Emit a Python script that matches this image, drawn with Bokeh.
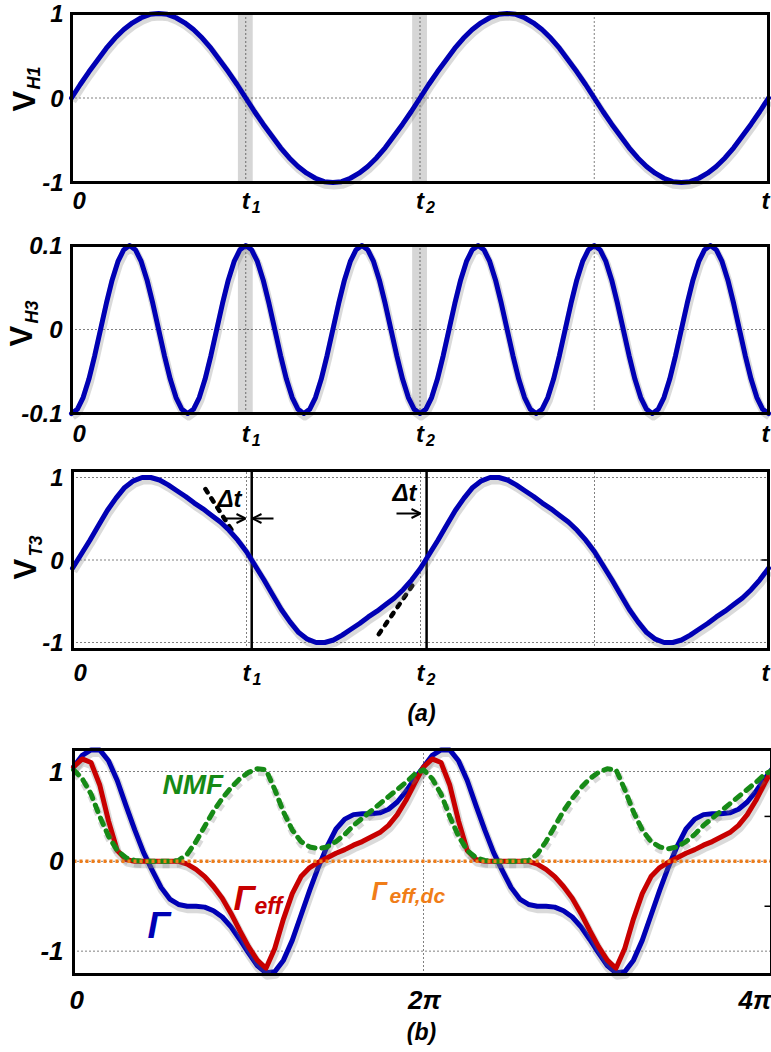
import numpy as np
from bokeh.plotting import figure
from bokeh.models import Range1d, Arrow, OpenHead, ColumnDataSource
from bokeh.core.properties import value
from bokeh.layouts import column
from bokeh.transform import dodge
from bokeh.embed import file_html
from bokeh.resources import INLINE

# ---------------- data ----------------
t_h1 = np.linspace(0, 4, 81)
v_h1 = [0.00, 0.16, 0.31, 0.45, 0.59, 0.71, 0.81, 0.89, 0.95, 0.99, 1.00, 0.99, 0.95, 0.89, 0.81, 0.71, 0.59, 0.45, 0.31, 0.16, 0.00,
        -0.16, -0.31, -0.45, -0.59, -0.71, -0.81, -0.89, -0.95, -0.99, -1.00, -0.99, -0.95, -0.89, -0.81, -0.71, -0.59, -0.45, -0.31, -0.16, 0.00,
        0.16, 0.31, 0.45, 0.59, 0.71, 0.81, 0.89, 0.95, 0.99, 1.00, 0.99, 0.95, 0.89, 0.81, 0.71, 0.59, 0.45, 0.31, 0.16, 0.00,
        -0.16, -0.31, -0.45, -0.59, -0.71, -0.81, -0.89, -0.95, -0.99, -1.00, -0.99, -0.95, -0.89, -0.81, -0.71, -0.59, -0.45, -0.31, -0.16, 0.00]

t_h3 = np.linspace(0, 4, 121)
v_h3 = [-0.100, -0.095, -0.081, -0.059, -0.031, 0.000, 0.031, 0.059, 0.081, 0.095, 0.100, 0.095, 0.081, 0.059, 0.031, 0.000, -0.031, -0.059, -0.081, -0.095,
        -0.100, -0.095, -0.081, -0.059, -0.031, 0.000, 0.031, 0.059, 0.081, 0.095, 0.100, 0.095, 0.081, 0.059, 0.031, 0.000, -0.031, -0.059, -0.081, -0.095,
        -0.100, -0.095, -0.081, -0.059, -0.031, 0.000, 0.031, 0.059, 0.081, 0.095, 0.100, 0.095, 0.081, 0.059, 0.031, 0.000, -0.031, -0.059, -0.081, -0.095,
        -0.100, -0.095, -0.081, -0.059, -0.031, 0.000, 0.031, 0.059, 0.081, 0.095, 0.100, 0.095, 0.081, 0.059, 0.031, 0.000, -0.031, -0.059, -0.081, -0.095,
        -0.100, -0.095, -0.081, -0.059, -0.031, 0.000, 0.031, 0.059, 0.081, 0.095, 0.100, 0.095, 0.081, 0.059, 0.031, 0.000, -0.031, -0.059, -0.081, -0.095,
        -0.100, -0.095, -0.081, -0.059, -0.031, 0.000, 0.031, 0.059, 0.081, 0.095, 0.100, 0.095, 0.081, 0.059, 0.031, 0.000, -0.031, -0.059, -0.081, -0.095,
        -0.100]

t_t3 = np.linspace(0, 4, 81)
v_t3 = [-0.10,
        0.07, 0.24, 0.42, 0.60, 0.75, 0.88, 0.96, 1.00, 1.00, 0.97, 0.91, 0.84, 0.77, 0.69, 0.62, 0.54, 0.46, 0.36, 0.24, 0.10,
        -0.07, -0.24, -0.42, -0.60, -0.75, -0.88, -0.96, -1.00, -1.00, -0.97, -0.91, -0.84, -0.77, -0.69, -0.62, -0.54, -0.46, -0.36, -0.24, -0.10,
        0.07, 0.24, 0.42, 0.60, 0.75, 0.88, 0.96, 1.00, 1.00, 0.97, 0.91, 0.84, 0.77, 0.69, 0.62, 0.54, 0.46, 0.36, 0.24, 0.10,
        -0.07, -0.24, -0.42, -0.60, -0.75, -0.88, -0.96, -1.00, -1.00, -0.97, -0.91, -0.84, -0.77, -0.69, -0.62, -0.54, -0.46, -0.36, -0.24, -0.10]

# gray bands around t1, t2 (x units)
band_left = [0.955, 1.955]
band_right = [1.040, 2.040]
# shifted zero crossings of V_T3
shifted_t = [1.03, 2.035]
# dashed tangent pieces on V_T3
tan_x0 = [0.764, 1.760]
tan_y0 = [0.86, -0.90]
tan_x1 = [0.925, 1.973]
tan_y1 = [0.33, -0.25]

theta = np.linspace(0, 4 * np.pi, 81)
gamma = [1.05, 1.18, 1.24, 1.24, 1.12, 0.90, 0.62, 0.35, 0.10, -0.10,
         -0.29, -0.42, -0.48, -0.50, -0.50, -0.51, -0.55, -0.62, -0.73, -0.87,
         -1.02, -1.16, -1.24, -1.23, -1.10, -0.88, -0.60, -0.32, -0.06, 0.17,
         0.36, 0.47, 0.52, 0.53, 0.53, 0.54, 0.58, 0.66, 0.78, 0.92,
         1.05, 1.18, 1.24, 1.24, 1.12, 0.90, 0.62, 0.35, 0.10, -0.10,
         -0.29, -0.42, -0.48, -0.50, -0.50, -0.51, -0.55, -0.62, -0.73, -0.87,
         -1.02, -1.16, -1.24, -1.23, -1.10, -0.88, -0.60, -0.32, -0.06, 0.17,
         0.36, 0.47, 0.52, 0.53, 0.53, 0.54, 0.58, 0.66, 0.78, 0.92, 1.05]
gamma_eff = [1.05, 1.14, 1.10, 0.85, 0.45, 0.12, 0.02, 0.00, 0.00, 0.00,
             0.00, 0.00, 0.00, -0.03, -0.09, -0.17, -0.28, -0.41, -0.58, -0.77,
             -0.95, -1.10, -1.19, -0.97, -0.64, -0.36, -0.17, -0.07, -0.01, 0.04,
             0.09, 0.13, 0.18, 0.22, 0.27, 0.32, 0.40, 0.52, 0.68, 0.87,
             1.05, 1.14, 1.10, 0.85, 0.45, 0.12, 0.02, 0.00, 0.00, 0.00,
             0.00, 0.00, 0.00, -0.03, -0.09, -0.17, -0.28, -0.41, -0.58, -0.77,
             -0.95, -1.10, -1.19, -0.97, -0.64, -0.36, -0.17, -0.07, -0.01, 0.04,
             0.09, 0.13, 0.18, 0.22, 0.27, 0.32, 0.40, 0.52, 0.68, 0.87, 1.05]
nmf = [1.02, 0.92, 0.75, 0.50, 0.28, 0.12, 0.04, 0.01, 0.00, 0.00,
       0.00, 0.00, 0.01, 0.08, 0.22, 0.39, 0.56, 0.70, 0.82, 0.92,
       0.99, 1.03, 1.02, 0.80, 0.55, 0.35, 0.22, 0.16, 0.14, 0.16,
       0.22, 0.30, 0.40, 0.48, 0.56, 0.64, 0.72, 0.80, 0.88, 0.97,
       1.02, 0.92, 0.75, 0.50, 0.28, 0.12, 0.04, 0.01, 0.00, 0.00,
       0.00, 0.00, 0.01, 0.08, 0.22, 0.39, 0.56, 0.70, 0.82, 0.92,
       0.99, 1.03, 1.02, 0.80, 0.55, 0.35, 0.22, 0.16, 0.14, 0.16,
       0.22, 0.30, 0.40, 0.48, 0.56, 0.64, 0.72, 0.80, 0.88, 0.97, 1.02]
gamma_eff_dc = 0.0

xt_pos = [0, 1, 2, 4]
xt_main = ["0", "t", "t", "t"]
xt_sub = ["", "1", "2", ""]
xt_grid = [1, 2, 3]
yt_a = [-1, 0, 1]
yt_a_lab = ["-1", "0", "1"]
yt_b = [-0.1, 0, 0.1]
yt_b_lab = ["-0.1", "0", "0.1"]
xt4_pos = [0, 2 * np.pi, 4 * np.pi]
xt4_lab = ["0", "2\u03c0", "4\u03c0"]
yt4_minor = [-0.5, 0.5]

# ---------------- styling / layout ----------------
W = 771
FONT = "Liberation Sans"
BLUE = "#0000b4"
RED = "#c80000"
GREEN = "#168a16"
ORANGE = "#f07d18"
SHADOW = "#7a7a7a"
TICK = 24      # tick-label font size (px)
SUB = 16       # subscript size
LW = 5         # curve width


class Panel:
    """A figure whose frame is the whole canvas; the axes box sits inside it."""

    def __init__(self, top, height, fl, ft, fr, fb, xr, yr):
        self.top, self.h = top, height
        self.fl, self.ft, self.fr, self.fb = fl, ft, fr, fb
        self.x0, self.x1 = xr
        self.y0, self.y1 = yr
        self.p = figure(width=W, height=height,
                        x_range=Range1d(self.X(0), self.X(W)),
                        y_range=Range1d(self.Y(top + height), self.Y(top)),
                        x_axis_location=None, y_axis_location=None, toolbar_location=None,
                        output_backend="svg", min_border_left=0, min_border_right=0,
                        min_border_top=0, min_border_bottom=0, outline_line_color=None,
                        background_fill_color="white", border_fill_color="white")
        self.p.grid.visible = False

    def sx(self):
        return (self.fr - self.fl) / (self.x1 - self.x0)

    def sy(self):
        return (self.fb - self.ft) / (self.y1 - self.y0)

    def X(self, px):
        return self.x0 + (px - self.fl) / self.sx()

    def Y(self, py):
        return self.y1 - (py - self.ft) / self.sy()

    def xpx(self, x):
        return self.fl + (x - self.x0) * self.sx()

    def ypx(self, y):
        return self.ft + (self.y1 - y) * self.sy()

    # text anchored at the vertical centre of its capitals ("middle")
    def text(self, px, py, s, size, color="black", align="left", angle=0.0,
             style="bold italic"):
        self.p.text(x=[self.X(px)], y=[self.Y(py)], text=[s], text_font=value(FONT),
                    text_font_size=value(f"{size}px"), text_font_style=style,
                    text_color=color, text_align=align, text_baseline="middle", angle=angle)

    def box(self):
        self.p.quad(left=[self.x0], right=[self.x1], bottom=[self.y0], top=[self.y1],
                    fill_color=None, line_color="black", line_width=3, line_join="miter")

    def bands(self):
        self.p.quad(left=band_left, right=band_right, bottom=[self.y0] * len(band_left),
                    top=[self.y1] * len(band_left), fill_color="#d6d6d6", line_color=None)

    def grid(self, xs, ys):
        xs, ys = list(xs), list(ys)
        self.p.segment(x0=xs, x1=xs, y0=[self.y0] * len(xs), y1=[self.y1] * len(xs),
                       line_color="black", line_dash="1 3", line_width=1)
        self.p.segment(x0=[self.x0] * len(ys), x1=[self.x1] * len(ys), y0=ys, y1=ys,
                       line_color="black", line_dash="1 3", line_width=1)

    def right_ticks(self, ys, length=7):
        ys = list(ys)
        self.p.segment(x0=[self.x1] * len(ys), x1=[self.X(self.fr - length)] * len(ys),
                       y0=ys, y1=ys, line_color="black", line_width=1.5)

    def curve(self, xs, ys, color, width=LW, dash="solid", shadow=True):
        src = ColumnDataSource(dict(x=list(xs), y=list(ys)))
        if shadow:
            self.p.line(x=dodge("x", 1.0 / self.sx()), y=dodge("y", -3.0 / self.sy()),
                        source=src, line_color=SHADOW, line_alpha=0.28, line_width=width + 3,
                        line_dash=dash, line_join="round")
        self.p.line(x="x", y="y", source=src, line_color=color, line_width=width,
                    line_dash=dash, line_join="round", line_cap="round")

    def yticks(self, vals, labs, right_px, size=TICK):
        for v, s in zip(vals, labs):
            self.text(right_px, self.ypx(v), s, size, align="right")

    def xticks_t(self, mid_py, size=TICK, subsize=SUB):
        for x, m, s in zip(xt_pos, xt_main, xt_sub):
            tp = self.xpx(x)
            if m == "0":
                self.text(self.fl + 1, mid_py, m, size)
            elif s == "":
                self.text(self.fr + 1, mid_py, m, size, align="right")
            else:
                self.text(tp - 4, mid_py, m, size)
                self.text(tp + 6, mid_py + 6, s, subsize)

    def ytitle(self, v_mid_x, v_start_y, sub, sub_mid_x, sub_start_y):
        self.text(v_mid_x, v_start_y, "V", 31, style="bold", angle=np.pi / 2)
        self.text(sub_mid_x, sub_start_y, sub, 18, angle=np.pi / 2)


# ---------- panel 1 : V_H1 ----------
P1 = Panel(0, 230, 71, 13, 768, 182, (0, 4), (-1, 1))
P1.bands()
P1.grid(xt_grid, [0])
P1.curve(t_h1, v_h1, BLUE)
P1.box()
P1.yticks(yt_a, yt_a_lab, 63)
P1.xticks_t(200)
P1.ytitle(24, 111, "H1", 33, 89)

# ---------- panel 2 : V_H3 ----------
P2 = Panel(230, 230, 71, 245, 768, 413, (0, 4), (-0.1, 0.1))
P2.bands()
P2.grid(xt_grid, [0])
P2.curve(t_h3, v_h3, BLUE)
P2.box()
P2.yticks(yt_b, yt_b_lab, 62)
P2.xticks_t(433)
P2.ytitle(21, 346, "H3", 31, 323)

# ---------- panel 3 : V_T3 ----------
P3 = Panel(460, 270, 72, 470, 768, 649, (0, 4), (-1.085, 1.085))
P3.grid(xt_grid, yt_a)
P3.p.segment(x0=shifted_t, x1=shifted_t, y0=[P3.y0] * 2, y1=[P3.y1] * 2,
             line_color="black", line_width=2.5)
P3.p.segment(x0=tan_x0, y0=tan_y0, x1=tan_x1, y1=tan_y1, line_color="black", line_width=4.5,
             line_dash="4 7", line_cap="round")
P3.curve(t_t3, v_t3, BLUE)
P3.right_ticks([0])
P3.box()
for xs, xe, py in [(222, 245, 518), (273, 252, 518), (396, 420, 513)]:
    P3.p.add_layout(Arrow(x_start=P3.X(xs), y_start=P3.Y(py), x_end=P3.X(xe), y_end=P3.Y(py),
                          line_width=2, line_color="black",
                          end=OpenHead(size=9, line_width=2, line_color="black")))
P3.text(217, 498, "\u0394t", 24)
P3.text(392, 492, "\u0394t", 24)
P3.yticks(yt_a, yt_a_lab, 63)
P3.xticks_t(672)
P3.ytitle(25, 579, "T3", 35, 556)
P3.text(421, 712, "(a)", 23, align="center")

# ---------- panel 4 : Gamma ----------
x_end4 = 698.0 / 350.0 * 2 * np.pi
P4 = Panel(730, 322, 73, 749, 771, 974, (0, x_end4), (-1.26, 1.245))
P4.grid([2 * np.pi], yt_a)
P4.curve(theta, gamma, BLUE)
P4.curve(theta, gamma_eff, RED)
P4.curve(theta, nmf, GREEN, dash="7 7")
P4.p.line(x=[theta[0], theta[-1]], y=[gamma_eff_dc, gamma_eff_dc], line_color=ORANGE,
          line_width=3.5, line_dash="3 3")
P4.right_ticks(yt4_minor)
P4.box()
P4.yticks(yt_a, yt_a_lab, 63, 26)
P4.text(P4.fl - 4, 999, xt4_lab[0], 26)
P4.text(P4.xpx(xt4_pos[1]) + 1, 999, xt4_lab[1], 26, align="center")
P4.text(771, 999, xt4_lab[2], 26, align="right")
P4.text(162, 784, "NMF", 28, color=GREEN)
P4.text(147, 925, "\u0393", 37, color=BLUE)
P4.text(233, 897, "\u0393", 35, color=RED)
P4.text(254, 905, "eff", 23, color=RED)
P4.text(371, 890, "\u0393", 25, color=ORANGE)
P4.text(389, 895, "eff,dc", 21, color=ORANGE)
P4.text(421, 1031, "(b)", 23, align="center")

layout = column(P1.p, P2.p, P3.p, P4.p, spacing=0)
open("out.html", "w").write(file_html(layout, INLINE))
